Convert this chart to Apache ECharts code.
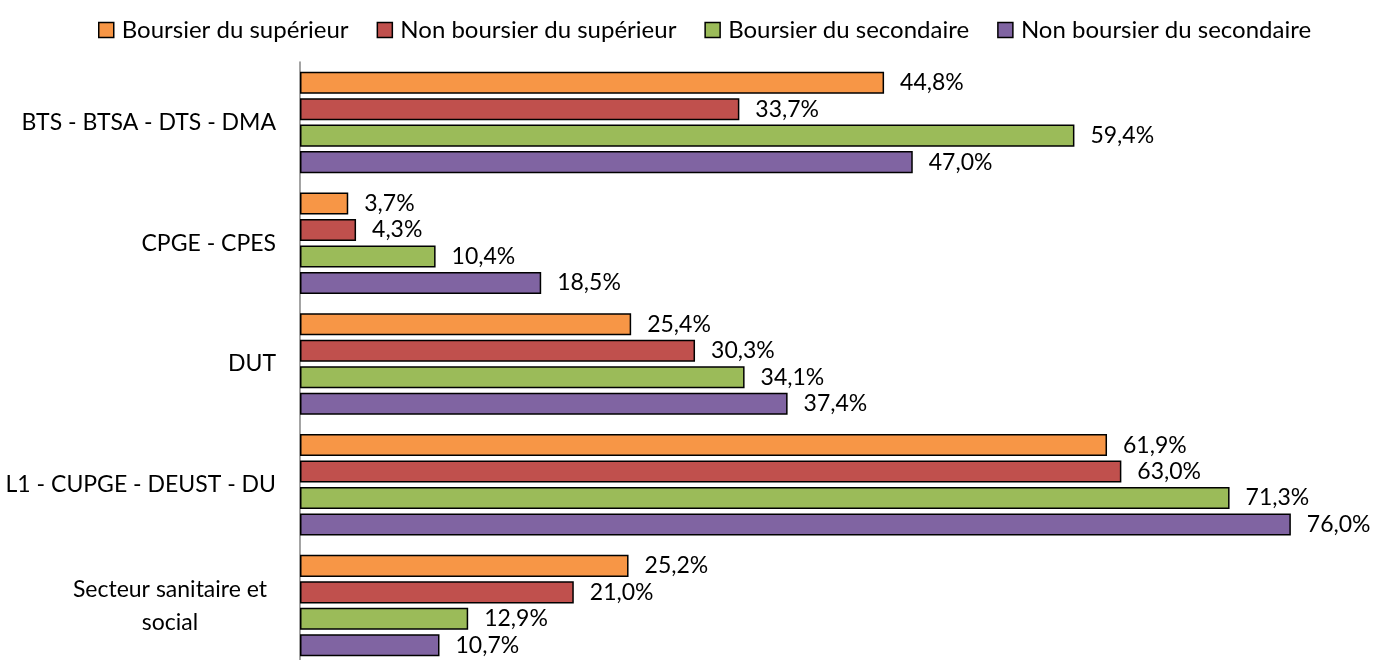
<!DOCTYPE html>
<html>
<head>
<meta charset="utf-8">
<script src="https://cdn.jsdelivr.net/npm/echarts@6/dist/echarts.min.js"></script>
<style>
html,body{margin:0;padding:0;background:#fff;}
#chart{width:1376px;height:660px;}
</style>
</head>
<body>
<div id="chart"></div>
<script>
const categories = ['BTS - BTSA - DTS - DMA', 'CPGE - CPES', 'DUT', 'L1 - CUPGE - DEUST - DU', 'Secteur sanitaire et social'];
const seriesNames = ['Boursier du supérieur', 'Non boursier du supérieur', 'Boursier du secondaire', 'Non boursier du secondaire'];
const boursierSup = [44.8, 3.7, 25.4, 61.9, 25.2];
const nonBoursierSup = [33.7, 4.3, 30.3, 63.0, 21.0];
const boursierSec = [59.4, 10.4, 34.1, 71.3, 12.9];
const nonBoursierSec = [47.0, 18.5, 37.4, 76.0, 10.7];
const colors = ['#F79646', '#C0504D', '#9BBB59', '#8064A2'];

const FONT = 'Lato';
const chart = echarts.init(document.getElementById('chart'), null, {renderer: 'canvas'});
const values = [boursierSup, nonBoursierSup, boursierSec, nonBoursierSec];

const series = values.map((v, i) => ({
  name: seriesNames[i],
  type: 'bar',
  data: v,
  barGap: '20%',
  barCategoryGap: '16%',
  itemStyle: {color: colors[i], borderColor: '#000', borderWidth: 1.5},
  label: {
    show: true,
    position: 'right',
    distance: 16,
    color: '#000',
    fontFamily: FONT,
    fontSize: 23,
    formatter: p => p.value.toFixed(1).replace('.', ',') + '%'
  }
}));

chart.setOption({
  animation: false,
  color: colors,
  legend: {
    top: 13,
    left: 93,
    itemWidth: 15,
    itemHeight: 15,
    itemGap: 28,
    icon: 'rect',
    textStyle: {fontFamily: FONT, fontSize: 24, color: '#000', padding: [0, 0, 0, 3]},
    itemStyle: {borderColor: '#000', borderWidth: 1.5}
  },
  grid: {left: 300, top: 62, width: 1043, height: 604, containLabel: false, outerBoundsMode: 'none'},
  xAxis: {
    type: 'value', min: 0, max: 80,
    axisLine: {show: false}, axisTick: {show: false},
    axisLabel: {show: false}, splitLine: {show: false}
  },
  yAxis: {
    type: 'category',
    data: categories,
    inverse: true,
    axisLine: {show: true, lineStyle: {color: '#868686', width: 1.5}},
    axisTick: {show: false},
    axisLabel: {
      margin: 24,
      color: '#000',
      fontFamily: FONT,
      fontSize: 23,
      lineHeight: 33,
      formatter: v => {
        if (v.length > 24) {
          const idx = v.lastIndexOf(' ');
          return '{c|' + v.slice(0, idx) + '}\n{c|' + v.slice(idx + 1) + '}';
        }
        return v;
      },
      rich: {c: {width: 212, align: 'center', fontFamily: FONT, fontSize: 23, lineHeight: 33, color: '#000'}}
    }
  },
  series: series
});
</script>
</body>
</html>
